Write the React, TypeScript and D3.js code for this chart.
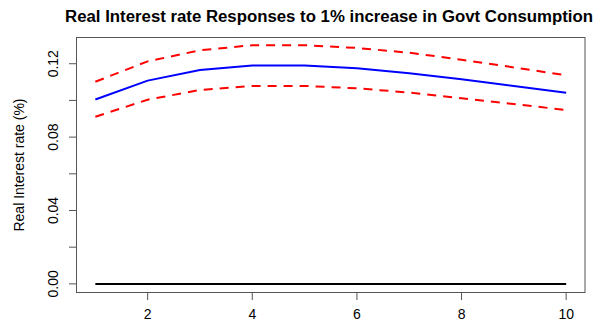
import React from "react";
import * as d3 from "d3";

const horizons = [1, 2, 3, 4, 5, 6, 7, 8, 9, 10];
const response = [0.1005, 0.1108, 0.1166, 0.1191, 0.1191, 0.1175, 0.1148, 0.1115, 0.1079, 0.1042];
const upperBand = [0.1102, 0.1213, 0.1273, 0.1301, 0.1301, 0.1286, 0.126, 0.1222, 0.118, 0.1137];
const lowerBand = [0.0911, 0.1004, 0.1057, 0.1079, 0.1079, 0.1066, 0.1043, 0.1012, 0.098, 0.0948];
const zeroLine = [0, 0, 0, 0, 0, 0, 0, 0, 0, 0];
const xTicks = [2, 4, 6, 8, 10];
const yTicks = [0, 0.02, 0.04, 0.06, 0.08, 0.1, 0.12];
const yLabelled = [0, 0.04, 0.08, 0.12];

const W = 599;
const H = 328;
const left = 76.5;
const right = 585;
const top = 37.5;
const bottom = 292.5;

export default function App() {
  const x = d3.scaleLinear().domain([0.64, 10.36]).range([left, right]);
  const y = d3.scaleLinear().domain([-0.0047, 0.1343]).range([bottom, top]);
  const line = (vals: number[]) =>
    d3
      .line<number>()
      .x((_, i) => x(horizons[i]))
      .y((v) => y(v))(vals) as string;
  const font = "'Liberation Sans', Arial, Helvetica, sans-serif";

  return (
    <svg
      width={W}
      height={H}
      style={{ position: "absolute", left: 0, top: 0, background: "#fff" }}
      fontFamily={font}
    >
      <text x={329} y={22} textAnchor="middle" fontSize={16.8} fontWeight="bold" fill="#000">
        Real Interest rate Responses to 1% increase in Govt Consumption
      </text>
      <rect x={left} y={top} width={right - left} height={bottom - top} fill="none" stroke="#555" strokeWidth={1} />
      {xTicks.map((t) => (
        <g key={"x" + t}>
          <line x1={x(t)} x2={x(t)} y1={bottom} y2={bottom + 7.5} stroke="#555" />
          <text x={x(t)} y={319} textAnchor="middle" fontSize={14} fill="#000">
            {t}
          </text>
        </g>
      ))}
      {yTicks.map((t) => (
        <line key={"y" + t} x1={left - 7.5} x2={left} y1={y(t)} y2={y(t)} stroke="#555" />
      ))}
      {yLabelled.map((t) => (
        <text
          key={"yl" + t}
          transform={`translate(${57.5},${y(t)}) rotate(-90)`}
          textAnchor="middle"
          fontSize={14}
          fill="#000"
        >
          {t.toFixed(2)}
        </text>
      ))}
      <text
        transform={`translate(${24},${(top + bottom) / 2}) rotate(-90)`}
        textAnchor="middle"
        fontSize={14}
        fill="#000"
      >
        Real Interest rate (%)
      </text>
      <path d={line(zeroLine)} fill="none" stroke="#000" strokeWidth={2} />
      <path d={line(upperBand)} fill="none" stroke="#ff0000" strokeWidth={2} strokeDasharray="9,7" />
      <path d={line(lowerBand)} fill="none" stroke="#ff0000" strokeWidth={2} strokeDasharray="9,7" />
      <path d={line(response)} fill="none" stroke="#0000ff" strokeWidth={2} />
    </svg>
  );
}
